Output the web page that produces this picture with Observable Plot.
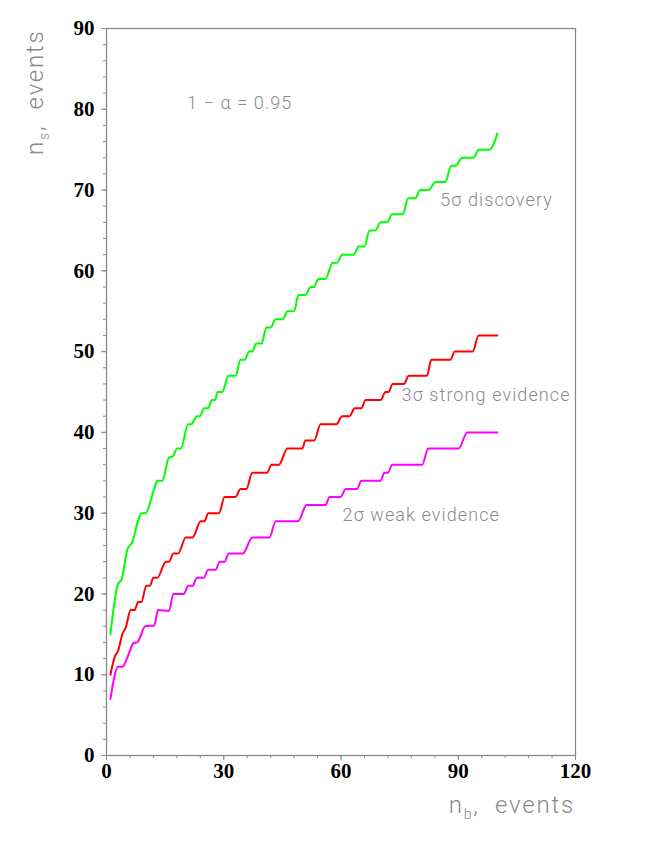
<!DOCTYPE html>
<html><head><meta charset="utf-8">
<script src="https://cdn.jsdelivr.net/npm/d3@7"></script>
<script src="https://cdn.jsdelivr.net/npm/@observablehq/plot@0.6"></script>
<style>
body{margin:0;background:#fff}
</style>
</head><body><div id="chart"></div>
<script>
// 5 sigma discovery
const nb5 = [1, 3.0, 3.8, 5.4, 6.6, 8.1, 8.9, 10.0, 12.2, 13.0,
  14.3, 16.0, 16.9, 18.1, 19.0, 20.9, 21.7, 23.1, 23.9, 25.0,
  26.0, 27.0, 27.8, 28.4, 29.6, 31.2, 33.0, 34.3, 35.4, 36.5,
  37.3, 38.3, 39.7, 40.9, 42.0, 43.3, 45.1, 46.3, 48.0, 49.1,
  50.9, 52.2, 53.1, 54.2, 56.0, 57.9, 59.0, 60.3, 63.3, 64.5,
  66.0, 67.3, 68.8, 70.1, 71.8, 73.1, 75.8, 77.2, 79.0, 80.3,
  82.4, 84.2, 86.7, 88.2, 89.3, 91.0, 93.9, 95.2, 98.0, 100];
const ns5 = [15, 21.3, 21.7, 25.6, 26.4, 29.1, 30, 30, 33, 34,
  34, 36.9, 37, 38, 38, 41, 41, 42, 42, 43,
  43, 44, 44, 45, 45, 47, 47, 49, 49, 50,
  50, 51, 51, 53, 53, 54, 54, 55, 55, 57,
  57, 58, 58, 59, 59, 61, 61, 62, 62, 63,
  63, 65, 65, 66, 66, 67, 67, 69, 69, 70,
  70, 71, 71, 73, 73, 74, 74, 75, 75, 77];
// 3 sigma strong evidence
const nb3 = [1, 2.1, 3.0, 4.1, 4.9, 6.2, 7.2, 8.1, 8.9, 10.2,
  11.1, 12.0, 13.0, 15.2, 16.0, 17.1, 18.3, 20.3, 22.0, 24.1,
  25.1, 26.0, 28.8, 30.2, 33.0, 34.3, 35.8, 37.3, 41.1, 42.2,
  44.1, 46.3, 50.1, 50.9, 53.1, 54.8, 58.8, 60.3, 62.2, 63.5,
  65.2, 66.3, 70.1, 71.4, 72.2, 73.2, 76.1, 77.3, 82.0, 83.1,
  88.0, 89.1, 93.7, 95.2, 100];
const ns3 = [10, 12.2, 13, 15.1, 15.8, 18, 18, 19, 19, 21,
  21, 22, 22, 24, 24, 25, 25, 27, 27, 29,
  29, 30, 30, 32, 32, 33, 33, 35, 35, 36,
  36, 38, 38, 39, 39, 41, 41, 42, 42, 43,
  43, 44, 44, 45, 45, 46, 46, 47, 47, 49,
  49, 50, 50, 52, 52];
// 2 sigma weak evidence
const nb2 = [1, 3.0, 4.1, 5.4, 6.9, 7.9, 9.9, 12.2, 13.2, 16.0,
  17.1, 19.8, 20.9, 22.0, 23.1, 24.9, 26.0, 27.9, 29.0, 30.2,
  31.3, 34.9, 37.3, 41.7, 43.3, 49.0, 51.2, 56.0, 57.1, 59.9,
  61.2, 64.1, 65.2, 70.1, 71.1, 72.0, 73.1, 80.8, 82.3, 90.1,
  92.3, 100];
const ns2 = [7, 11, 11, 12.2, 13.9, 14, 16, 16.1, 18, 17.9,
  20, 20, 21, 21, 22, 22, 23, 23, 24, 24,
  25, 25, 27, 27, 29, 29, 31, 31, 32, 32,
  33, 33, 34, 34, 35, 35, 36, 36, 38, 38,
  40, 40];

const seriesNames = ["5σ discovery", "3σ strong evidence", "2σ weak evidence"];
const seriesColors = ["#00ff00", "#ff0000", "#ff00ff"];
const xTicks = [0, 30, 60, 90, 120];
const yTicks = [0, 10, 20, 30, 40, 50, 60, 70, 80, 90];
const clText = "1 − α = 0.95";

const rows = (nb, ns, s) => nb.map((x, i) => ({nb: x, ns: ns[i], s}));
const data = [
  ...rows(nb5, ns5, seriesNames[0]),
  ...rows(nb3, ns3, seriesNames[1]),
  ...rows(nb2, ns2, seriesNames[2])
];

const gray = "#8a8a8a";
const tickFont = {fontFamily: "Liberation Serif", fontWeight: "bold", fontSize: 21, fill: "#000"};
const annFont = {fontFamily: "Roboto", fontWeight: 300, fontSize: 18, fill: gray};

const plot = Plot.plot({
  width: 654, height: 846,
  marginLeft: 106, marginRight: 79, marginTop: 28, marginBottom: 91,
  x: {domain: [0, 120], axis: null},
  y: {domain: [0, 90], axis: null},
  color: {domain: seriesNames, range: seriesColors},
  style: {background: "#fff", overflow: "visible"},
  marks: [
    Plot.axisX({ticks: d3.range(0, 121, 6), tickSize: 3, tickFormat: () => "", label: null, stroke: gray}),
    Plot.axisY({ticks: d3.range(0, 91, 2), tickSize: 3, tickFormat: () => "", label: null, stroke: gray}),
    Plot.axisX({ticks: xTicks, tickSize: 5, tickPadding: 3, label: null, stroke: gray, ...tickFont}),
    Plot.axisY({ticks: yTicks, tickSize: 5, tickPadding: 7, label: null, stroke: gray, ...tickFont}),
    Plot.frame({stroke: gray, strokeWidth: 1.3}),
    Plot.line(data, {x: "nb", y: "ns", z: "s", stroke: "s", strokeWidth: 2, curve: "monotone-x"}),
    Plot.text([clText], {x: 20.6, y: 80.8, text: d => d, textAnchor: "start", ...annFont}),
    Plot.text([seriesNames[0]], {x: 85.4, y: 68.7, text: d => d, textAnchor: "start", ...annFont}),
    Plot.text([seriesNames[1]], {x: 75.5, y: 44.6, text: d => d, textAnchor: "start", ...annFont}),
    Plot.text([seriesNames[2]], {x: 60.4, y: 29.7, text: d => d, textAnchor: "start", ...annFont})
  ]
});
document.getElementById("chart").appendChild(plot);

const svg = d3.select(plot);
// wider letter spacing for the annotation texts (thin, wide source font)
svg.selectAll('g[aria-label="text"] text').attr("letter-spacing", 1.1).style("white-space", "pre");

// axis titles with subscripts
const titleStyle = t => t.attr("font-family", "Roboto").attr("font-weight", 300)
  .attr("font-size", 24).attr("fill", gray).attr("letter-spacing", 1.8).style("white-space", "pre");
const xt = svg.append("text").attr("x", 575).attr("y", 813).attr("text-anchor", "end").call(titleStyle);
xt.append("tspan").text("n");
xt.append("tspan").attr("font-size", 14).attr("dy", 6).text("b");
xt.append("tspan").attr("dy", -6).text(",  events");
const yt = svg.append("text").attr("transform", "translate(43,155) rotate(-90)").attr("text-anchor", "start").call(titleStyle);
yt.append("tspan").text("n");
yt.append("tspan").attr("font-size", 14).attr("dy", 6).text("s");
yt.append("tspan").attr("dy", -6).text(",  events");
</script>
</body></html>
